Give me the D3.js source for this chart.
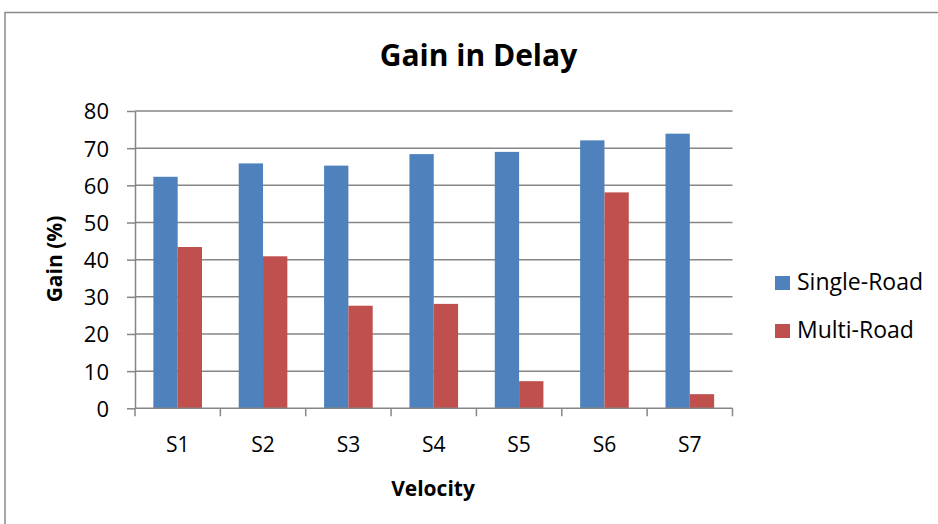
<!DOCTYPE html>
<html>
<head>
<meta charset="utf-8">
<script src="https://cdn.jsdelivr.net/npm/d3@7"></script>
<style>
  body { margin: 0; background: #fff; }
  svg { display: block; font-family: "Open Sans", sans-serif; }
</style>
</head>
<body>
<div id="chart"></div>
<script>
var categories = ["S1", "S2", "S3", "S4", "S5", "S6", "S7"];
var seriesNames = ["Single-Road", "Multi-Road"];
var singleRoad = [62.3, 65.9, 65.3, 68.4, 69.0, 72.1, 73.9];
var multiRoad = [43.4, 40.9, 27.6, 28.1, 7.3, 58.1, 3.8];
var yTicks = [0, 10, 20, 30, 40, 50, 60, 70, 80];
var colors = ["#4f81bd", "#c0504d"];

var width = 938, height = 524;
var plot = { left: 135, right: 732.5, top: 111, bottom: 408.3 };
var gridColor = "#868686";

var svg = d3.select("#chart").append("svg")
	.attr("width", width)
	.attr("height", height);

// chart frame
svg.append("rect")
	.attr("x", 5)
	.attr("y", 12.5)
	.attr("width", width + 10)
	.attr("height", height)
	.style("fill", "none")
	.style("stroke", "#8a8a8a")
	.style("stroke-width", 1.5);

var x = d3.scaleBand()
	.domain(categories)
	.range([plot.left, plot.right])
	.paddingInner(0)
	.paddingOuter(0);

var x1 = d3.scaleBand()
	.domain(seriesNames)
	.range([0, x.bandwidth()])
	.paddingInner(0)
	.paddingOuter(0.755);

var y = d3.scaleLinear()
	.domain([0, 80])
	.range([plot.bottom, plot.top]);

// gridlines
svg.append("g")
	.selectAll("line")
	.data(yTicks.slice(1))
	.join("line")
	.attr("x1", plot.left)
	.attr("x2", plot.right)
	.attr("y1", function(d) { return y(d); })
	.attr("y2", function(d) { return y(d); })
	.style("stroke", gridColor)
	.style("stroke-width", 1.5);

// bars
var rows = categories.map(function(c, i) {
	return { cat: c, values: [singleRoad[i], multiRoad[i]] };
});

var groups = svg.append("g")
	.selectAll("g")
	.data(rows)
	.join("g")
	.attr("transform", function(d) { return "translate(" + x(d.cat) + ",0)"; });

groups.selectAll("rect")
	.data(function(d) {
		return d.values.map(function(v, j) { return { name: seriesNames[j], value: v, idx: j }; });
	})
	.join("rect")
	.attr("x", function(d) { return x1(d.name); })
	.attr("width", x1.bandwidth())
	.attr("y", function(d) { return y(d.value); })
	.attr("height", function(d) { return y(0) - y(d.value); })
	.style("fill", function(d) { return colors[d.idx]; });

// y axis
var yAxis = svg.append("g")
	.attr("transform", "translate(" + plot.left + ",0)")
	.call(d3.axisLeft(y).tickValues(yTicks).tickSize(8).tickSizeOuter(0).tickPadding(18));
yAxis.select(".domain").style("stroke", gridColor).style("stroke-width", 1.5);
yAxis.selectAll(".tick line").style("stroke", gridColor).style("stroke-width", 1.5);
yAxis.selectAll(".tick text")
	.style("font-family", "'Open Sans', sans-serif")
	.style("font-size", "22px")
	.style("fill", "#000")
	.attr("dy", "0.36em");

// x axis: tick marks on category boundaries
var boundaries = categories.map(function(c) { return x(c); }).concat([plot.right]);
svg.append("line")
	.attr("x1", plot.left)
	.attr("x2", plot.right)
	.attr("y1", plot.bottom)
	.attr("y2", plot.bottom)
	.style("stroke", gridColor)
	.style("stroke-width", 1.5);
svg.append("g")
	.selectAll("line")
	.data(boundaries)
	.join("line")
	.attr("x1", function(d) { return d; })
	.attr("x2", function(d) { return d; })
	.attr("y1", plot.bottom)
	.attr("y2", plot.bottom + 8)
	.style("stroke", gridColor)
	.style("stroke-width", 1.5);

svg.append("g")
	.selectAll("text")
	.data(categories)
	.join("text")
	.attr("x", function(d) { return x(d) + x.bandwidth() / 2; })
	.attr("y", 452)
	.attr("text-anchor", "middle")
	.style("font-size", "21px")
	.text(function(d) { return d; });

// titles
svg.append("text")
	.attr("x", 478.5)
	.attr("y", 66)
	.attr("text-anchor", "middle")
	.style("font-size", "30px")
	.style("font-weight", "bold")
	.text("Gain in Delay");

svg.append("text")
	.attr("x", 433)
	.attr("y", 496)
	.attr("text-anchor", "middle")
	.style("font-size", "21px")
	.style("font-weight", "bold")
	.text("Velocity");

svg.append("text")
	.attr("transform", "translate(62,259) rotate(-90)")
	.attr("text-anchor", "middle")
	.style("font-size", "21px")
	.style("font-weight", "bold")
	.text("Gain (%)");

// legend
var legend = svg.append("g")
	.selectAll("g")
	.data(seriesNames)
	.join("g")
	.attr("transform", function(d, i) { return "translate(775," + (276 + i * 48) + ")"; });
legend.append("rect")
	.attr("width", 15)
	.attr("height", 14)
	.style("fill", function(d, i) { return colors[i]; });
legend.append("text")
	.attr("x", 22)
	.attr("y", 13.5)
	.style("font-size", "23px")
	.text(function(d) { return d; });
</script>
</body>
</html>
